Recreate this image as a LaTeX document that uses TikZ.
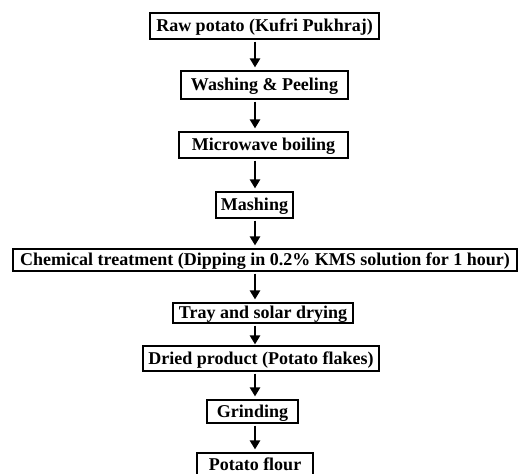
\documentclass[tikz,border=0pt]{standalone}
\usepackage{fontspec}
\setmainfont{Liberation Serif}
\usetikzlibrary{arrows.meta}
\tikzset{
  stepbox/.style={draw=black, line width=1.1pt, fill=white, inner sep=0pt,
    font=\fontsize{18}{20}\selectfont\bfseries, text height=14pt, text depth=3pt},
  flowarrow/.style={line width=2.6pt, shorten <=2pt, shorten >=3pt, -{Triangle[width=10pt,length=9pt]}}
}
\begin{document}
\begin{tikzpicture}[x=1pt,y=-1pt]
\useasboundingbox[fill=white] (0,0) rectangle (518,473);
\node[stepbox, minimum width=229pt, minimum height=26pt] (b1) at (264.5,26) {Raw potato (Kufri Pukhraj)};
\node[stepbox, minimum width=167pt, minimum height=28pt] (b2) at (264.5,85) {Washing \& Peeling};
\node[stepbox, minimum width=169pt, minimum height=26pt] (b3) at (263.5,145) {Microwave boiling};
\node[stepbox, minimum width=77pt, minimum height=26pt] (b4) at (254.5,205) {Mashing};
\node[stepbox, minimum width=504pt, minimum height=22pt] (b5) at (265,260) {Chemical treatment (Dipping in 0.2\% KMS solution for 1 hour)};
\node[stepbox, minimum width=180pt, minimum height=20pt] (b6) at (263,313) {Tray and solar drying};
\node[stepbox, minimum width=236pt, minimum height=25pt] (b7) at (261,358.5) {Dried product (Potato flakes)};
\node[stepbox, minimum width=91pt, minimum height=23pt] (b8) at (252.5,411.5) {Grinding};
\node[stepbox, minimum width=116pt, minimum height=24pt, text height=13pt, text depth=3pt] (b9) at (255,465) {Potato flour};
\coordinate (ax) at (255,0);
\draw[flowarrow] (b1.south -| ax) -- (b2.north -| ax);
\draw[flowarrow] (b2.south -| ax) -- (b3.north -| ax);
\draw[flowarrow] (b3.south -| ax) -- (b4.north -| ax);
\draw[flowarrow] (b4.south -| ax) -- (b5.north -| ax);
\draw[flowarrow] (b5.south -| ax) -- (b6.north -| ax);
\draw[flowarrow, shorten >=1pt] (b6.south -| ax) -- (b7.north -| ax);
\draw[flowarrow] (b7.south -| ax) -- (b8.north -| ax);
\draw[flowarrow] (b8.south -| ax) -- (b9.north -| ax);
\end{tikzpicture}
\end{document}
